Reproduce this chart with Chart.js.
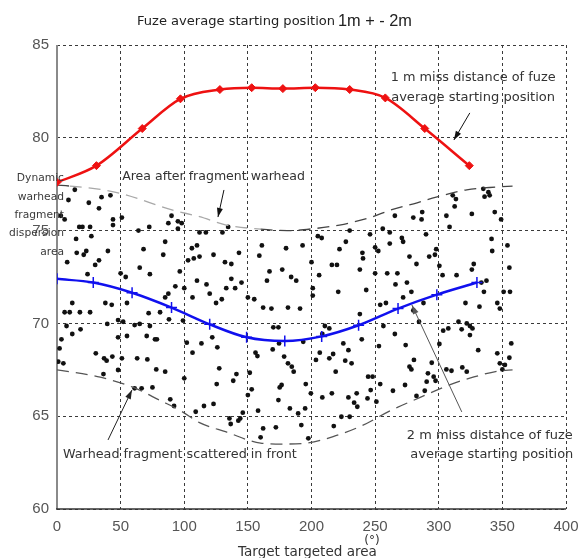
<!DOCTYPE html>
<html><head><meta charset="utf-8">
<script src="https://cdn.jsdelivr.net/npm/chart.js@4.4.0/dist/chart.umd.min.js"></script>
<style>html,body{margin:0;padding:0;background:#fff}#wrap{width:581px;height:558px}</style>
</head><body><div id="wrap"><canvas id="c" width="581" height="558"></canvas></div>
<script>
// ---------- data ----------
const xTicks = [0, 50, 100, 150, 200, 250, 300, 350, 400];
const yTicks = [60, 65, 70, 75, 80, 85];

// 1 m miss distance (red)
const redX = [0, 31, 67, 97, 128, 153, 177.5, 203, 230, 258, 289, 324];
const redY = [77.6, 78.5, 80.5, 82.1, 82.6, 82.7, 82.65, 82.7, 82.6, 82.15, 80.5, 78.5];
// 2 m miss distance (blue)
const blueX = [0, 28.5, 59, 90, 120, 149, 179, 208, 237, 268, 298.5, 330];
const blueY = [72.4, 72.2, 71.65, 70.85, 69.95, 69.25, 69.05, 69.3, 69.9, 70.8, 71.55, 72.2];
// upper boundary: area after fragment warhead
const upperX = [0, 10, 31, 50, 91, 112, 133, 160, 181, 201, 222, 246, 262, 283, 298, 322, 346, 358];
const upperY = [77.45, 77.4, 77.25, 77.0, 76.1, 75.75, 75.3, 75.08, 75.0, 75.1, 75.3, 75.7, 76.1, 76.5, 76.8, 77.2, 77.35, 77.4];
// lower boundary: fragments scattered in front
const lowerX = [0, 34, 60, 81, 97, 112, 133, 160, 178, 196, 217, 240, 262, 285, 309, 327, 348, 358];
const lowerY = [67.5, 67.1, 66.55, 65.85, 65.3, 64.65, 64.15, 63.55, 63.5, 63.55, 63.9, 64.5, 65.3, 66.0, 66.7, 67.1, 67.45, 67.5];

// fragment dispersion points [angle, value]
const fragmentPoints = [
[14,77.2],[9,76.65],[25,76.5],[35,76.8],[42,76.9],[33,76.2],[3,75.8],[6,75.6],[17.5,75.2],[20,75.2],[26,75.2],[44,75.3],[44,75.6],[51,75.7],[64,75.0],[72.5,75.2],[87.5,75.4],[95,75.5],[98,75.4],[95,75.1],[90,75.8],[112,74.9],[117,74.9],[130,74.9],[134.5,75.2],[15,74.55],[27,74.7],[15.5,73.8],[21,73.7],[23,73.9],[40,73.9],[68,74.0],[83.5,73.7],[85,74.4],[106,74.05],[110,74.2],[103,73.4],[107.5,73.5],[112,73.6],[123,73.7],[8,73.3],[30,73.15],[33,73.4],[65,73.0],[132,73.3],[137,73.2],[143,73.8],[161,74.2],[159,73.65],[50,72.7],[73,72.65],[96.5,72.8],[167,72.8],[165,72.3],[24,72.65],[54,72.5],[110,72.3],[117.5,72.1],[93,72.0],[100,71.9],[133,71.9],[137,72.4],[140,71.9],[145,72.2],[87.5,71.6],[85,71.4],[106.5,71.4],[120,71.6],[125,71.1],[129.5,71.3],[150,71.4],[155,71.3],[38,71.1],[43,71.0],[55,71.1],[12,71.1],[10,70.6],[6,70.6],[18,70.6],[26,70.6],[72,70.55],[81,70.6],[162,70.85],[168.5,70.8],
[335,77.25],[339,77.07],[336,76.83],[340,76.9],[311,76.9],[313.5,76.7],[312.5,76.3],[326,75.9],[306,75.8],[265.5,75.8],[280,75.7],[287,76.0],[286.5,75.6],[344,76.0],[349,75.6],[308.5,75.2],[205,74.7],[208,74.6],[230,75.0],[246,74.8],[256,75.1],[261.5,74.9],[261.5,74.3],[271,74.6],[272,74.4],[290,74.8],[180,74.05],[193,74.2],[222,74.0],[227,74.4],[250,74.1],[252.5,73.9],[240,73.8],[240.5,73.5],[277,73.6],[282.5,73.2],[292.5,73.6],[297,73.7],[298,74.0],[341.5,74.55],[342,73.9],[354,74.2],[200,73.3],[216,73.15],[220,73.15],[177,72.9],[184,72.5],[188,72.3],[206,72.6],[238,72.9],[250,72.7],[259.5,72.7],[267.5,72.7],[300.5,73.1],[303,72.6],[314,72.6],[326,72.9],[327.5,73.2],[355.5,73.0],[266,72.1],[275,72.2],[243,71.8],[221,71.7],[201,71.9],[201,71.5],[333.5,72.2],[337.5,72.3],[332,70.9],[335.5,71.7],[272,71.4],[278.5,71.7],[258.5,71.1],[254,71.0],[280,70.7],[288,71.1],[321,71.1],[346,71.1],[348,70.8],[351,71.7],[356,71.7],[181.5,70.85],[191,70.8],[238,70.5],
[7.5,69.86],[12,69.43],[18.5,69.68],[3.5,69.14],[2,68.65],[1,67.94],[5,67.85],[30.5,68.39],[37,68.12],[39,67.99],[43.5,68.21],[51,68.12],[48,67.49],[36.5,67.27],[39.5,69.97],[48,70.18],[52,70.09],[61,69.91],[65,69.97],[55,69.32],[48,69.25],[70.5,69.32],[77,69.14],[78.5,69.14],[73,69.86],[63,68.12],[71,68.06],[78,67.52],[85,67.4],[61,66.5],[66.5,66.5],[75,66.55],[89,65.91],[92,65.55],[100,67.04],[102,68.96],[106.5,68.42],[113.5,68.92],[122,69.25],[126,68.71],[127.5,67.58],[125.5,66.73],[138.5,66.91],[141,67.27],[115.5,65.55],[123,65.66],[109,65.24],[135.5,64.88],[136.5,64.58],[142.5,64.76],[146,65.19],[144,64.88],[150,66.14],[153,66.45],[158,65.3],[151.5,67.34],[156,68.42],[157.5,68.24],[169.5,68.6],[170,69.79],[174,69.79],[174.5,68.92],[176.5,66.68],[175,66.55],[174,65.87],[162,64.34],[172,64.4],[160,63.86],[88,70.22],[99,70.15],
[210.5,69.86],[214,69.73],[208.5,69.43],[193.5,69.01],[225,68.92],[239.5,69.14],[253,68.78],[265.5,69.43],[256.5,69.86],[284.5,70.09],[274,68.83],[229,68.56],[217,68.35],[214,68.12],[206.5,68.42],[203.5,68.03],[178.5,68.21],[181.5,67.85],[184.5,67.67],[186,67.4],[226.5,67.99],[231.5,67.85],[219,67.4],[195.5,66.73],[199.5,66.23],[208.5,66.01],[216,66.23],[229,66.01],[235.5,66.23],[233.5,65.73],[236,65.51],[244,65.96],[246.5,66.41],[244.5,67.13],[248,67.13],[254,66.73],[251,65.78],[264,66.37],[273.5,66.68],[277,67.67],[278.5,67.52],[280.5,68.03],[294.5,67.88],[291.5,67.31],[296,67.13],[297.5,66.91],[290.5,66.86],[289,66.37],[282.5,66.09],[306,67.52],[310,67.45],[318.5,67.63],[322,67.4],[300.5,68.89],[303.5,69.61],[307.5,69.73],[315.5,70.09],[318,69.68],[322,70.0],[324.5,69.86],[326.5,69.73],[324.5,69.37],[331,68.56],[346,68.39],[348,67.85],[352,67.76],[350,67.52],[355.5,68.15],[357,68.92],[183,65.42],[189.5,65.15],[195,65.42],[192,64.52],[197.5,63.81],[217.5,64.47],[223.5,64.97],[230,64.97]
];

// ---------- helpers ----------
const xy = (xs, ys) => xs.map((v, i) => ({x: v, y: ys[i]}));

function fitFont(ctx, text, width, family, weight) {
  ctx.font = (weight || '') + ' 20px ' + family;
  const w = ctx.measureText(text).width;
  return (weight || '') + ' ' + (20 * width / w).toFixed(2) + 'px ' + family;
}

function arrow(ctx, x1, y1, x2, y2, color, lw) {
  ctx.strokeStyle = color; ctx.fillStyle = color; ctx.lineWidth = lw;
  ctx.beginPath(); ctx.moveTo(x1, y1); ctx.lineTo(x2, y2); ctx.stroke();
  const a = Math.atan2(y2 - y1, x2 - x1), L = 9, W = 3;
  ctx.beginPath();
  ctx.moveTo(x2, y2);
  ctx.lineTo(x2 - L * Math.cos(a) + W * Math.sin(a), y2 - L * Math.sin(a) - W * Math.cos(a));
  ctx.lineTo(x2 - L * Math.cos(a) - W * Math.sin(a), y2 - L * Math.sin(a) + W * Math.cos(a));
  ctx.closePath(); ctx.fill();
}

const annotPlugin = {
  id: 'annot',
  beforeDatasetsDraw(chart) {
    // solid axis lines (left gray, bottom dark) like the reference
    const ctx = chart.ctx, a = chart.chartArea;
    ctx.save();
    ctx.setLineDash([]);
    ctx.strokeStyle = '#8a8a8a'; ctx.lineWidth = 2;
    ctx.beginPath(); ctx.moveTo(a.left, a.top); ctx.lineTo(a.left, a.bottom); ctx.stroke();
    ctx.strokeStyle = '#333'; ctx.lineWidth = 1.5;
    ctx.beginPath(); ctx.moveTo(a.left - 1, a.bottom); ctx.lineTo(a.right, a.bottom); ctx.stroke();
    ctx.restore();
  },
  afterDraw(chart) {
    const ctx = chart.ctx, sx = chart.scales.x, sy = chart.scales.y;
    const X = v => sx.getPixelForValue(v), Y = v => sy.getPixelForValue(v);
    const fam = '"DejaVu Sans", sans-serif';
    ctx.save();
    ctx.textBaseline = 'middle';

    // title
    ctx.fillStyle = '#222';
    ctx.textAlign = 'left';
    ctx.font = fitFont(ctx, 'Fuze average starting position', 198, fam);
    ctx.fillText('Fuze average starting position', 137, 22);
    ctx.font = fitFont(ctx, '1m + - 2m', 74, '"Liberation Sans", sans-serif');
    ctx.fillText('1m + - 2m', 338, 21);

    // x axis title
    ctx.fillStyle = '#333';
    ctx.font = fitFont(ctx, 'Target targeted area', 139, fam);
    ctx.fillText('Target targeted area', 238, 552);
    ctx.textAlign = 'center';
    ctx.font = '12px ' + fam;
    ctx.fillText('(°)', 372, 541);

    // annotation texts
    ctx.fillStyle = '#333';
    const texts = [
      ['1 m miss distance of fuze', 327, 83.22, 165],
      ['average starting position', 327, 82.14, 164],
      ['Area after fragment warhead', 123, 77.89, 183],
      ['Warhead fragment scattered in front', 96.6, 62.91, 234],
      ['2 m miss distance of fuze', 340.1, 63.93, 166],
      ['average starting position', 341.7, 62.91, 163]
    ];
    texts.forEach(t => {
      ctx.font = fitFont(ctx, t[0], t[3], fam);
      ctx.fillText(t[0], X(t[1]), Y(t[2]));
    });

    // left block label
    ctx.fillStyle = '#3a3a3a';
    ctx.textAlign = 'right';
    ctx.font = fitFont(ctx, 'dispersion', 55, fam);
    [['Dynamic', 77.83], ['warhead', 76.81], ['fragment', 75.84], ['dispersion', 74.87], ['area', 73.85]]
      .forEach(r => ctx.fillText(r[0], 64, Y(r[1])));

    // arrows
    arrow(ctx, X(324.4), Y(81.34), X(311.9), Y(79.88), '#111', 1);
    arrow(ctx, X(131.2), Y(77.19), X(126.5), Y(75.73), '#111', 1);
    arrow(ctx, X(40.1), Y(63.72), X(58.9), Y(66.41), '#222', 1);
    arrow(ctx, X(318.1), Y(65.23), X(278.9), Y(70.99), '#555', 1);
    ctx.restore();
  }
};

const gridCfg = {color: '#3a3a3a', lineWidth: 1, drawTicks: false};

new Chart(document.getElementById('c'), {
  type: 'scatter',
  data: {
    datasets: [
      {
        label: '1 m', type: 'line', data: xy(redX, redY), order: 1,
        borderColor: '#ee1111', backgroundColor: '#ee1111', borderWidth: 2.5,
        pointStyle: 'rectRot', pointRadius: 4, pointBorderWidth: 1,
        tension: 0.35, cubicInterpolationMode: 'monotone', fill: false
      },
      {
        label: '2 m', type: 'line', data: xy(blueX, blueY), order: 1,
        borderColor: '#1010ee', backgroundColor: '#1010ee', borderWidth: 2.5,
        pointStyle: 'cross', pointRadius: 5.5, pointBorderWidth: 1.5,
        tension: 0.35, cubicInterpolationMode: 'monotone', fill: false
      },
      {
        label: 'upper', type: 'line', data: xy(upperX, upperY), order: 3,
        borderColor: '#444', borderWidth: 1.3, borderDash: [12, 7], pointRadius: 0,
        segment: { borderColor: c => (c.p0.parsed.x >= 10 && c.p0.parsed.x < 160) ? '#a8a8a8' : '#444' },
        cubicInterpolationMode: 'monotone', fill: false
      },
      {
        label: 'lower', type: 'line', data: xy(lowerX, lowerY), order: 3,
        borderColor: '#555', borderWidth: 1.3, borderDash: [12, 7], pointRadius: 0,
        cubicInterpolationMode: 'monotone', fill: false
      },
      {
        label: 'fragments', data: fragmentPoints.map(p => ({x: p[0], y: p[1]})), order: 5,
        pointRadius: 2.4, pointBackgroundColor: '#111', pointBorderWidth: 0, pointHoverRadius: 2.4
      }
    ]
  },
  options: {
    responsive: false, animation: false, devicePixelRatio: 1,
    layout: {padding: {left: 0, right: 15, top: 45, bottom: 0}},
    plugins: {legend: {display: false}, tooltip: {enabled: false}, title: {display: false}},
    scales: {
      x: {
        type: 'linear', min: 0, max: 400,
        afterBuildTicks: s => { s.ticks = xTicks.map(v => ({value: v})); },
        afterFit: s => { s.height = 49; s.paddingLeft = 0; s.paddingRight = 0; },
        grid: gridCfg,
        border: {display: false, dash: [3, 3]},
        ticks: {color: '#555', font: {family: '"Liberation Sans", sans-serif', size: 15}, padding: 9, maxRotation: 0}
      },
      y: {
        min: 60, max: 85,
        afterBuildTicks: s => { s.ticks = yTicks.map(v => ({value: v})); },
        afterFit: s => { s.width = 57; s.paddingTop = 0; s.paddingBottom = 0; },
        grid: gridCfg,
        border: {display: false, dash: [3, 3]},
        ticks: {color: '#555', font: {family: '"Liberation Sans", sans-serif', size: 15}, padding: 8}
      }
    }
  },
  plugins: [annotPlugin]
});
</script>
</body></html>
